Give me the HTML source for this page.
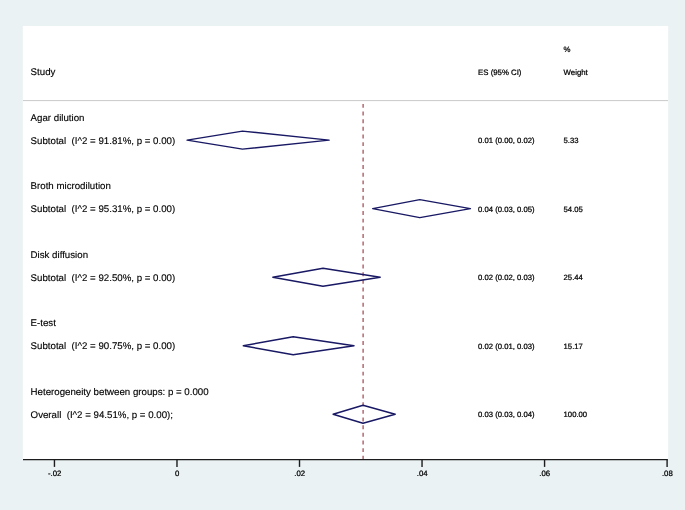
<!DOCTYPE html>
<html><head><meta charset="utf-8"><title>Forest plot</title>
<style>
html,body{margin:0;padding:0;background:#eaf2f3;}
body{width:685px;height:510px;overflow:hidden;}
svg{display:block;}
text{font-family:"Liberation Sans",Arial,Helvetica,sans-serif;fill:#000;stroke:#000;stroke-width:0.13px;text-rendering:geometricPrecision;}
.l{font-size:9.7px;}
.r{font-size:7.8px;stroke-width:0.24px;}
.n{font-size:7.7px;stroke-width:0.24px;}
</style></head><body>
<svg width="685" height="510" viewBox="0 0 685 510">
<rect x="0" y="0" width="685" height="510" fill="#eaf2f3"/>
<rect x="22.8" y="26" width="645.4" height="433.6" fill="#ffffff"/>
<line x1="23" y1="100.6" x2="668" y2="100.6" stroke="#c9c9c9" stroke-width="1"/>
<line x1="363.1" y1="103.9" x2="363.1" y2="459" stroke="#a04c58" stroke-width="1.25" stroke-dasharray="3.95 3.7"/>
<polygon points="187.1,140.10 242.5,131.10 329.1,140.10 242.5,149.10" fill="none" stroke="#181864" stroke-width="1.45" stroke-linejoin="round"/>
<polygon points="372.7,208.65 419.8,199.65 470.4,208.65 419.8,217.65" fill="none" stroke="#181864" stroke-width="1.45" stroke-linejoin="round"/>
<polygon points="272.8,277.20 323,268.20 380.2,277.20 323,286.20" fill="none" stroke="#181864" stroke-width="1.45" stroke-linejoin="round"/>
<polygon points="243.3,345.75 293.2,336.75 354,345.75 293.2,354.75" fill="none" stroke="#181864" stroke-width="1.45" stroke-linejoin="round"/>
<polygon points="333.1,414.30 363.0,405.30 395.2,414.30 363.0,423.30" fill="none" stroke="#181864" stroke-width="1.45" stroke-linejoin="round"/>
<line x1="23" y1="459.6" x2="667.8" y2="459.6" stroke="#1c1c1c" stroke-width="1.4"/>
<line x1="54.45" y1="459.6" x2="54.45" y2="466.9" stroke="#1c1c1c" stroke-width="1.4"/>
<text x="54.65" y="476.1" class="r" text-anchor="middle">-.02</text>
<line x1="176.98" y1="459.6" x2="176.98" y2="466.9" stroke="#1c1c1c" stroke-width="1.4"/>
<text x="177.18" y="476.1" class="r" text-anchor="middle">0</text>
<line x1="299.51" y1="459.6" x2="299.51" y2="466.9" stroke="#1c1c1c" stroke-width="1.4"/>
<text x="299.71" y="476.1" class="r" text-anchor="middle">.02</text>
<line x1="422.04" y1="459.6" x2="422.04" y2="466.9" stroke="#1c1c1c" stroke-width="1.4"/>
<text x="422.24" y="476.1" class="r" text-anchor="middle">.04</text>
<line x1="544.57" y1="459.6" x2="544.57" y2="466.9" stroke="#1c1c1c" stroke-width="1.4"/>
<text x="544.77" y="476.1" class="r" text-anchor="middle">.06</text>
<line x1="667.10" y1="459.6" x2="667.10" y2="466.9" stroke="#1c1c1c" stroke-width="1.4"/>
<text x="667.30" y="476.1" class="r" text-anchor="middle">.08</text>
<text x="30.6" y="75.35" class="l">Study</text>
<text x="30.6" y="120.75" class="l">Agar dilution</text>
<text x="30.6" y="143.60" class="l">Subtotal&#160;&#160;(I^2 = 91.81%, p = 0.00)</text>
<text x="30.6" y="189.30" class="l">Broth microdilution</text>
<text x="30.6" y="212.15" class="l">Subtotal&#160;&#160;(I^2 = 95.31%, p = 0.00)</text>
<text x="30.6" y="257.85" class="l">Disk diffusion</text>
<text x="30.6" y="280.70" class="l">Subtotal&#160;&#160;(I^2 = 92.50%, p = 0.00)</text>
<text x="30.6" y="326.40" class="l">E-test</text>
<text x="30.6" y="349.25" class="l">Subtotal&#160;&#160;(I^2 = 90.75%, p = 0.00)</text>
<text x="30.6" y="394.95" class="l">Heterogeneity between groups: p = 0.000</text>
<text x="30.6" y="417.55" class="l">Overall&#160;&#160;(I^2 = 94.51%, p = 0.00);</text>
<text x="563.6" y="51.95" class="r">%</text>
<text x="478.1" y="74.80" class="r">ES (95% CI)</text>
<text x="563.6" y="74.80" class="r">Weight</text>
<text x="478.1" y="143.15" class="n">0.01 (0.00, 0.02)</text>
<text x="563.6" y="143.15" class="n">5.33</text>
<text x="478.1" y="211.70" class="n">0.04 (0.03, 0.05)</text>
<text x="563.6" y="211.70" class="n">54.05</text>
<text x="478.1" y="280.25" class="n">0.02 (0.02, 0.03)</text>
<text x="563.6" y="280.25" class="n">25.44</text>
<text x="478.1" y="348.80" class="n">0.02 (0.01, 0.03)</text>
<text x="563.6" y="348.80" class="n">15.17</text>
<text x="478.1" y="417.35" class="n">0.03 (0.03, 0.04)</text>
<text x="563.6" y="417.35" class="n">100.00</text>
</svg>
</body></html>
